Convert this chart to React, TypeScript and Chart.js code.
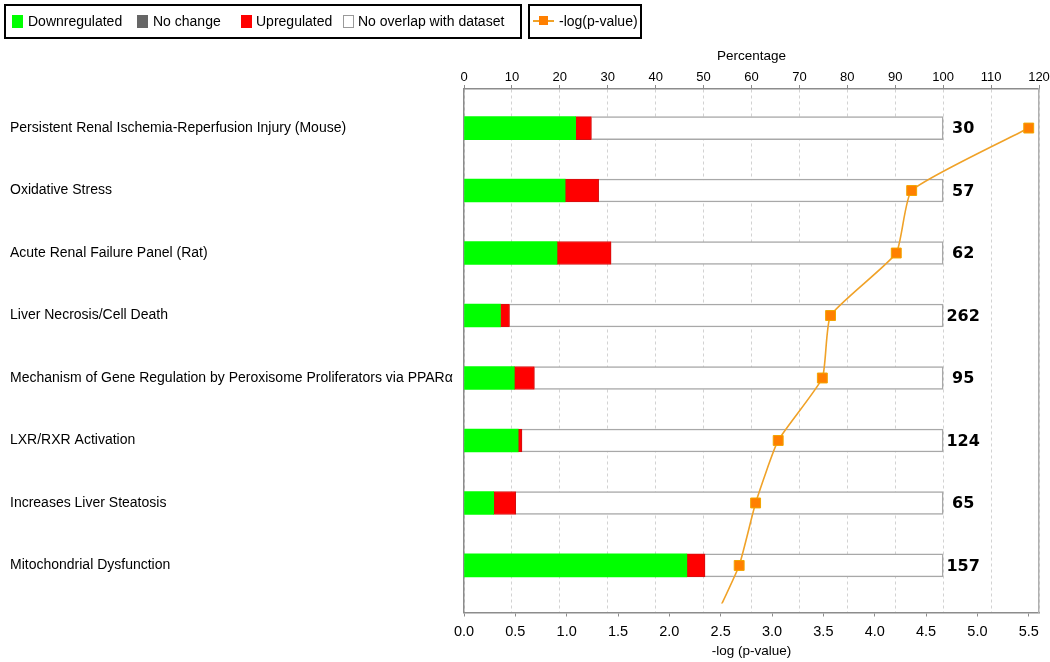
import React, { useEffect, useRef } from 'react';
import { Chart, registerables } from 'chart.js';

Chart.register(...registerables);

// ---------- data ----------
const categories = [
  'Persistent Renal Ischemia-Reperfusion Injury (Mouse)',
  'Oxidative Stress',
  'Acute Renal Failure Panel (Rat)',
  'Liver Necrosis/Cell Death',
  'Mechanism of Gene Regulation by Peroxisome Proliferators via PPARα',
  'LXR/RXR Activation',
  'Increases Liver Steatosis',
  'Mitochondrial Dysfunction',
];
const totals = [30, 57, 62, 262, 95, 124, 65, 157];
const downregulatedPct = [23.3, 21.1, 19.4, 7.6, 10.5, 11.3, 6.2, 46.5];
const upregulatedPct = [3.3, 7.0, 11.3, 1.9, 4.2, 0.8, 4.6, 3.8];
const noOverlapPct = [73.4, 71.9, 69.3, 90.5, 85.3, 87.9, 89.2, 49.7];
// last value belongs to the next (scrolled-off) pathway; only its line segment is visible
const negLogP = [5.5, 4.36, 4.21, 3.57, 3.49, 3.06, 2.84, 2.68, 2.4];
const percentTicks = { min: 0, max: 120, step: 10 };
const pvalueTicks = { min: 0, max: 5.6, step: 0.5 };

const legendItems = [
  { label: 'Downregulated', color: '#00ff00', border: '#00ff00', left: 12, textLeft: 28 },
  { label: 'No change', color: '#666666', border: '#666666', left: 137, textLeft: 153 },
  { label: 'Upregulated', color: '#ff0000', border: '#ff0000', left: 241, textLeft: 256 },
  { label: 'No overlap with dataset', color: '#ffffff', border: '#9a9a9a', left: 343, textLeft: 358 },
];

const FONT = '"Liberation Sans", Arial, sans-serif';
const AXIS_GRAY = '#8c8c8c';

const totalsPlugin = {
  id: 'totalsLabels',
  afterDatasetsDraw(chart: any) {
    const { ctx } = chart;
    const x = chart.scales.x;
    const y = chart.scales.y;
    ctx.save();
    ctx.font = 'bold 16px "DejaVu Sans", sans-serif';
    ctx.fillStyle = '#000';
    ctx.textAlign = 'center';
    ctx.textBaseline = 'middle';
    totals.forEach((t, i) => {
      ctx.fillText(String(t), x.getPixelForValue(100) + 20, y.getPixelForValue(i) + 1);
    });
    ctx.restore();
  },
};

const noPad = (s: any) => {
  s.paddingLeft = 0;
  s.paddingRight = 0;
  s.paddingTop = 0;
  s.paddingBottom = 0;
};

export default function App() {
  const canvasRef = useRef<HTMLCanvasElement | null>(null);

  useEffect(() => {
    const canvas = canvasRef.current;
    if (!canvas) return;

    const barCommon = {
      type: 'bar' as const,
      xAxisID: 'x',
      yAxisID: 'y',
      stack: 'pathway',
      barThickness: 23,
      order: 2,
    };

    const chart = new Chart(canvas, {
      type: 'bar',
      data: {
        datasets: [
          {
            ...barCommon,
            label: 'Downregulated',
            data: downregulatedPct.map((v, i) => ({ x: v, y: i })),
            backgroundColor: '#00ff00',
            borderWidth: 0,
          },
          {
            ...barCommon,
            label: 'Upregulated',
            data: upregulatedPct.map((v, i) => ({ x: v, y: i })),
            backgroundColor: '#ff0000',
            borderColor: '#d01010',
            borderWidth: 1,
            borderSkipped: false,
          },
          {
            ...barCommon,
            label: 'No overlap with dataset',
            data: noOverlapPct.map((v, i) => ({ x: v, y: i })),
            backgroundColor: '#ffffff',
            borderColor: '#a8a8a8',
            borderWidth: 1.5,
            borderSkipped: 'start',
          },
          {
            type: 'line' as const,
            label: '-log(p-value)',
            xAxisID: 'x2',
            yAxisID: 'y',
            order: 0,
            clip: { left: 10, top: 10, right: 10, bottom: -9 },
            data: negLogP.map((v, i) => ({ x: v, y: i })),
            borderColor: '#f0a228',
            borderWidth: 1.6,
            tension: 0.15,
            pointStyle: 'rect',
            pointRadius: 7,
            pointBackgroundColor: '#ff7f00',
            pointBorderColor: '#f2a500',
            pointBorderWidth: 1,
          } as any,
        ],
      },
      options: {
        responsive: false,
        animation: false,
        indexAxis: 'y',
        layout: { padding: { left: 10, right: 11, top: 44, bottom: 0 } },
        plugins: {
          legend: { display: false },
          tooltip: { enabled: false },
        },
        scales: {
          x: {
            type: 'linear',
            position: 'top',
            min: percentTicks.min,
            max: percentTicks.max,
            stacked: true,
            afterFit: (s: any) => { s.height = 45; noPad(s); },
            ticks: {
              stepSize: percentTicks.step,
              padding: 0,
              color: '#000',
              font: { family: FONT, size: 13 },
            },
            grid: {
              color: '#d2d2d2',
              lineWidth: 1,
              drawTicks: true,
              tickLength: 4,
              tickColor: AXIS_GRAY,
              tickWidth: 1,
            },
            border: { display: true, color: AXIS_GRAY, width: 1.5, dash: [3, 3] },
            title: {
              display: true,
              text: 'Percentage',
              color: '#000',
              font: { family: FONT, size: 13.5 },
              padding: { top: 4, bottom: 0 },
            },
          },
          x2: {
            type: 'linear',
            position: 'bottom',
            min: pvalueTicks.min,
            max: pvalueTicks.max,
            afterFit: (s: any) => { s.height = 49.5; noPad(s); },
            ticks: {
              stepSize: pvalueTicks.step,
              includeBounds: false,
              padding: 7,
              color: '#000',
              font: { family: FONT, size: 14.5 },
              callback: (v: any) => Number(v).toFixed(1),
            },
            grid: {
              drawOnChartArea: false,
              drawTicks: true,
              tickLength: 4,
              tickColor: AXIS_GRAY,
            },
            border: { display: true, color: AXIS_GRAY, width: 1.5 },
            title: {
              display: true,
              text: '-log (p-value)',
              color: '#000',
              font: { family: FONT, size: 13.5 },
              padding: { top: 0, bottom: 3 },
            },
          },
          y: {
            type: 'linear',
            position: 'left',
            reverse: true,
            offset: false,
            min: -0.625,
            max: 7.753,
            stacked: true,
            afterFit: (s: any) => { s.width = 454; noPad(s); },
            afterBuildTicks: (s: any) => {
              s.ticks = categories.map((_, i) => ({ value: i }));
            },
            ticks: {
              autoSkip: false,
              crossAlign: 'far',
              color: '#000',
              font: { family: FONT, size: 14 },
              callback: (v: any) => categories[v] ?? '',
            },
            grid: { display: false },
            border: { display: true, color: AXIS_GRAY, width: 1.5 },
          },
          y2: {
            type: 'linear',
            position: 'right',
            display: true,
            reverse: true,
            offset: false,
            min: -0.625,
            max: 7.753,
            afterFit: (s: any) => { s.width = 0; noPad(s); },
            ticks: { display: false },
            grid: { display: false },
            border: { display: true, color: '#b0b0b0', width: 1.5 },
          },
        },
      } as any,
      plugins: [totalsPlugin],
    });

    return () => chart.destroy();
  }, []);

  const textStyle: React.CSSProperties = {
    position: 'absolute',
    top: 13,
    fontFamily: FONT,
    fontSize: 14,
    lineHeight: '16px',
    color: '#000',
    whiteSpace: 'nowrap',
  };

  return (
    <div style={{ position: 'relative', width: 1050, height: 662 }}>
      <style>{'html,body{margin:0;padding:0;overflow:hidden;background:#fff}'}</style>
      <canvas ref={canvasRef} width={1050} height={662} style={{ display: 'block' }} />
      <div
        style={{
          position: 'absolute', left: 4, top: 4, width: 518, height: 35,
          border: '2px solid #000', boxSizing: 'border-box',
        }}
      />
      {legendItems.map((it) => (
        <React.Fragment key={it.label}>
          <div
            style={{
              position: 'absolute', left: it.left, top: 15, width: 11, height: 13,
              background: it.color, border: `1px solid ${it.border}`, boxSizing: 'border-box',
            }}
          />
          <div style={{ ...textStyle, left: it.textLeft }}>{it.label}</div>
        </React.Fragment>
      ))}
      <div
        style={{
          position: 'absolute', left: 528, top: 4, width: 114, height: 35,
          border: '2px solid #000', boxSizing: 'border-box',
        }}
      />
      <div style={{ position: 'absolute', left: 533, top: 20, width: 21, height: 2, background: '#f0a228' }} />
      <div style={{ position: 'absolute', left: 539, top: 16, width: 9, height: 9, background: '#ff7f00' }} />
      <div style={{ ...textStyle, left: 559 }}>-log(p-value)</div>
    </div>
  );
}
